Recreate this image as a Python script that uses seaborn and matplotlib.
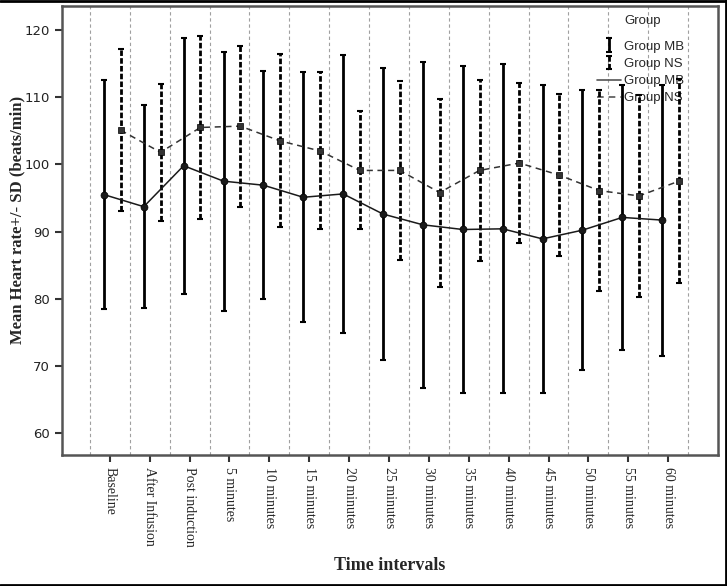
import numpy as np
import pandas as pd
import matplotlib
matplotlib.use("Agg")
import matplotlib.pyplot as plt
import seaborn as sns
from matplotlib.lines import Line2D

sns.set_style("white")
plt.rcParams["font.family"] = ["DejaVu Sans"]

# ---------------------------
# Data
# ---------------------------
time_labels = ["Baseline", "After Infusion", "Post induction", "5 minutes", "10 minutes",
               "15 minutes", "20 minutes", "25 minutes", "30 minutes", "35 minutes",
               "40 minutes", "45 minutes", "50 minutes", "55 minutes", "60 minutes"]

mb_mean = [95.5, 93.7, 99.8, 97.5, 96.9, 95.1, 95.6, 92.6, 91.0, 90.3, 90.4, 88.9, 90.2, 92.1, 91.7]
mb_sd = [17.0, 15.1, 19.1, 19.3, 17.0, 18.6, 20.7, 21.8, 24.3, 24.4, 24.5, 22.9, 20.9, 19.8, 20.2]

ns_mean = [105.1, 101.8, 105.5, 105.7, 103.5, 102.0, 99.1, 99.1, 95.8, 99.1, 100.2, 98.4, 96.1, 95.3, 97.5]
ns_sd = [12.1, 10.2, 13.7, 12.0, 12.9, 11.7, 8.8, 13.3, 14.0, 13.5, 11.9, 12.1, 15.0, 15.0, 15.2]

groups = ["Group MB", "Group NS"]
dodge = {"Group MB": -0.15, "Group NS": 0.27}

n = len(time_labels)
df = pd.DataFrame({
    "time": time_labels * 2,
    "idx": list(range(n)) * 2,
    "group": [groups[0]] * n + [groups[1]] * n,
    "mean": mb_mean + ns_mean,
    "sd": mb_sd + ns_sd,
})
df["xpos"] = df["idx"] + df["group"].map(dodge)

# ---------------------------
# Figure
# ---------------------------
fig = plt.figure(figsize=(7.27, 5.86), dpi=100)
ax = fig.add_axes([0.0853, 0.2235, 0.9023, 0.7663])

# vertical dashed separators between time points
for g in np.arange(n + 1) - 0.5:
    ax.axvline(g, color="#a0a0a0", lw=0.8, ls=(0, (3, 2.5)), zorder=0)

# error bars (+/- SD)
eb_handles = []
for grp, ls in zip(groups, ["-", (0, (2, 0.8))]):
    sub = df[df["group"] == grp]
    eb = ax.errorbar(sub["xpos"], sub["mean"], yerr=sub["sd"], fmt="none",
                     ecolor="black", elinewidth=2, capsize=2.5, capthick=1.5, zorder=3)
    eb[2][0].set_linestyle(ls)
    eb_handles.append(eb)

# mean lines
sns.lineplot(data=df, x="xpos", y="mean", style="group", hue="group",
             palette={"Group MB": "#1a1a1a", "Group NS": "#333333"},
             markers={"Group MB": "o", "Group NS": "s"},
             dashes={"Group MB": "", "Group NS": (4, 3)},
             markersize=5, markeredgecolor="black", markeredgewidth=0.5,
             linewidth=1.1, legend=False, ax=ax, zorder=4)

ax.set_xlim(-1.2, 15.25)
ax.set_ylim(56.7, 123.6)
ax.set_xticks(range(n))
ax.set_xticklabels(time_labels, rotation=-90, ha="center", va="top",
                   family="Liberation Serif", fontsize=10)
ax.set_yticks(range(60, 121, 10))
ax.set_yticklabels([str(v) for v in range(60, 121, 10)], fontsize=9.5, color="#222222")
ax.tick_params(axis="both", direction="out", length=5, width=1.5, color="#333333",
               bottom=True, left=True)

for side in ax.spines.values():
    side.set_color("#555555")
    side.set_linewidth(1.8)

ax.set_xlabel("Time intervals", family="Liberation Serif", fontweight="bold", fontsize=13)
ax.set_ylabel("Mean Heart rate+/- SD (beats/min)", family="Liberation Serif",
              fontweight="bold", fontsize=12)
ax.xaxis.set_label_coords(0.50, -0.245)
ax.yaxis.set_label_coords(-0.068, 0.524)
ax.xaxis.label.set_va("center")
ax.yaxis.label.set_va("center")

# legend (title drawn separately, a bit higher than the entries)
line_mb = Line2D([], [], color="#555555", lw=1.2, ls="-")
line_ns = Line2D([], [], color="#555555", lw=1.2, ls=(0, (4, 3)))
leg = ax.legend(eb_handles + [line_mb, line_ns],
                ["Group MB", "Group NS", "Group MB", "Group NS"],
                loc="upper left", bbox_to_anchor=(0.806, 0.938),
                frameon=False, borderpad=0, handlelength=1.8, handletextpad=0.2,
                labelspacing=0.38, prop={"family": "Liberation Sans", "size": 9.5})
leg.set_zorder(1)
ax.text(0.885, 0.966, "Group", transform=ax.transAxes, ha="center", va="center",
        family="Liberation Sans", fontsize=9.5, zorder=1)

# outer picture frame
for xs, ys in [([0, 1], [0.999, 0.999]), ([0.998, 0.998], [0, 1]), ([0, 1], [0.002, 0.002])]:
    fig.add_artist(Line2D(xs, ys, transform=fig.transFigure, color="black", lw=2))

plt.savefig("out.png", dpi=100)
